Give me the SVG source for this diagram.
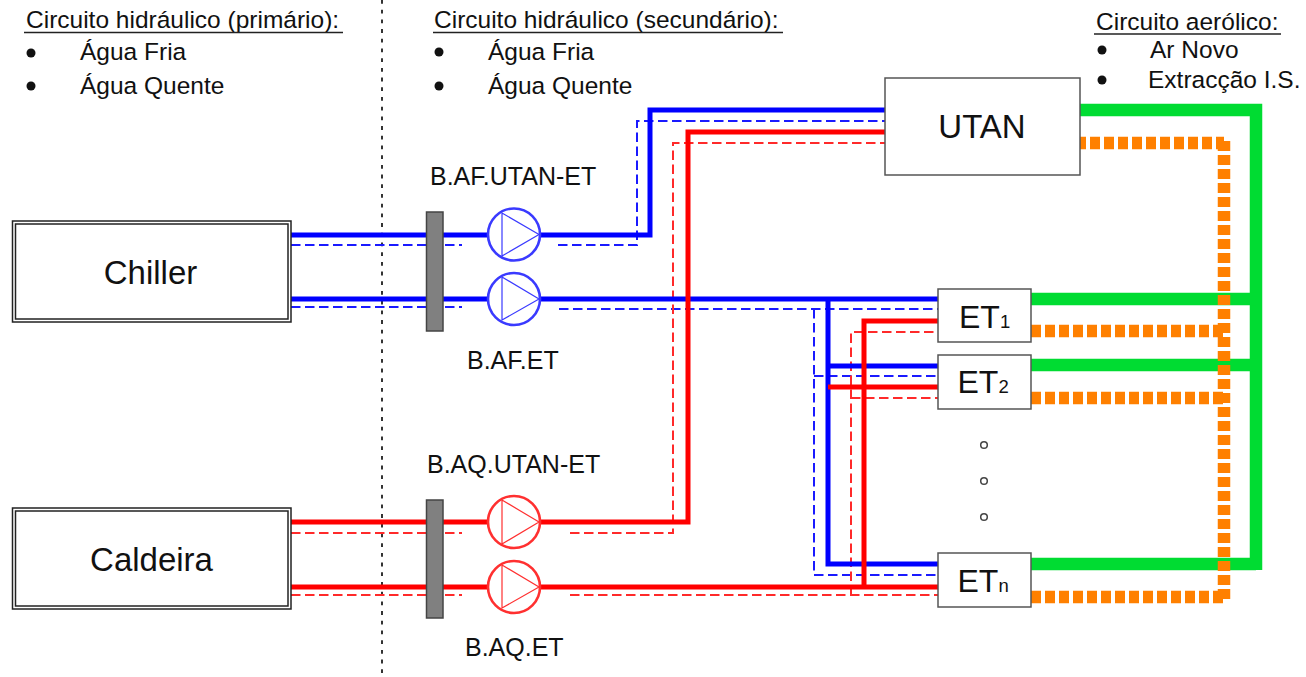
<svg xmlns="http://www.w3.org/2000/svg" width="1306" height="677" viewBox="0 0 1306 677">
<style>
text{font-family:"Liberation Sans",Arial,sans-serif;fill:#111}
.t{font-size:24.500px}
.l{font-size:25px}
.n{font-size:33px;text-anchor:middle}
.e{font-size:32px}
.s{font-size:18.500px}
.box{fill:#fff;stroke:#555;stroke-width:1.5}
.dbl{fill:#fff;stroke:#222;stroke-width:1.5}
.bar{fill:#808080;stroke:#444;stroke-width:1.5}
.ul{stroke:#222;stroke-width:1.5}
.line{fill:none;stroke-linejoin:miter}
.bt{stroke:#0000ff;stroke-width:5}
.rt{stroke:#ff0000;stroke-width:5}
.bd{stroke:#1a1aff;stroke-width:2;stroke-dasharray:9.5 4.5}
.rd{stroke:#ff2a2a;stroke-width:2;stroke-dasharray:9.5 4.5}
.g{stroke:#00dc32;stroke-width:12.5}
.o{stroke:#ff8000;stroke-width:12.5;stroke-dasharray:10 4}
.pb circle,.pb path{stroke:#3a3aff}
.pr circle,.pr path{stroke:#ff3030}
.p circle{stroke-width:2.6;fill:#fff}
.p path{stroke-width:1.2;fill:none}
</style>
<g id="sep"><line x1="382" y1="0" x2="382" y2="677" stroke="#000" stroke-width="1.600" stroke-dasharray="3.800 5.900"/></g>
<g id="legend-primario">
<text class="t" x="26" y="28">Circuito hidráulico (primário):</text><line class="ul" x1="24" y1="32.500" x2="343" y2="32.500"/>
<circle cx="31" cy="53" r="4.500" fill="#111"/><text class="t" x="80" y="60">Água Fria</text>
<circle cx="31" cy="86" r="4.500" fill="#111"/><text class="t" x="80" y="94">Água Quente</text>
</g>
<g id="legend-secundario">
<text class="t" x="434" y="28">Circuito hidráulico (secundário):</text><line class="ul" x1="433" y1="32.500" x2="783" y2="32.500"/>
<circle cx="439" cy="52" r="4.500" fill="#111"/><text class="t" x="488" y="60">Água Fria</text>
<circle cx="439" cy="86" r="4.500" fill="#111"/><text class="t" x="488" y="94">Água Quente</text>
</g>
<g id="legend-aeraulico">
<text class="t" x="1096" y="30">Circuito aerólico:</text><line class="ul" x1="1094" y1="34" x2="1281" y2="34"/>
<circle cx="1102" cy="50" r="4.500" fill="#111"/><text class="t" x="1150" y="58">Ar Novo</text>
<circle cx="1102" cy="80" r="4.500" fill="#111"/><text class="t" x="1148" y="88">Extracção I.S.</text>
</g>
<g id="connectors" class="line">
<path class="g" d="M1080 110H1256V570"/>
<path class="g" d="M1031 299H1256M1031 365H1256M1031 564H1256"/>
<path class="o" stroke-dashoffset="4" d="M1080 143H1224"/>
<path class="o" d="M1224 141V603"/>
<path class="o" d="M1031 331H1224M1031 398H1224M1031 597H1224"/>
<path class="bd" d="M291 245H462M558 245H637V121H885"/>
<path class="bd" d="M291 307H462M559 309H938M814 309V575H938M814 376H938"/>
<path class="rd" d="M291 533H462M570 533H673V143H885"/>
<path class="rd" d="M291 595H462M570 595H938M851 595V332H938M851 398H938"/>
<path class="bt" d="M291 235H487M541 235H650V110H885"/>
<path class="bt" d="M291 299H938M828 299V564H938M828 366H938"/>
<path class="rt" d="M291 522H487M541 522H688V132H885"/>
<path class="rt" d="M291 587H938M864 587V321H938M828 387H938"/>
</g>
<g id="bar-af"><rect class="bar" x="426.500" y="212" width="16.500" height="119"/></g>
<g id="bar-aq"><rect class="bar" x="426.500" y="500" width="16.500" height="118"/></g>
<g id="pump-af-utan" class="p pb"><circle cx="514" cy="234.500" r="26"/><path d="M502 213V256L539 234.500Z"/></g>
<g id="pump-af-et" class="p pb"><circle cx="514" cy="299" r="26"/><path d="M502 277V320L539 299Z"/></g>
<g id="pump-aq-utan" class="p pr"><circle cx="514" cy="522" r="26"/><path d="M502 500V544L539 522Z"/></g>
<g id="pump-aq-et" class="p pr"><circle cx="514" cy="587" r="26"/><path d="M502 565V608L539 587Z"/></g>
<g id="chiller"><rect class="dbl" x="12.500" y="221" width="278.500" height="101"/><rect class="dbl" x="15.500" y="224" width="272.500" height="95"/><text class="n" x="150.500" y="284">Chiller</text></g>
<g id="caldeira"><rect class="dbl" x="12.500" y="508" width="278.500" height="101"/><rect class="dbl" x="15.500" y="511" width="272.500" height="95"/><text class="n" x="151.500" y="571">Caldeira</text></g>
<g id="utan"><rect class="box" x="885" y="78" width="195" height="97"/><text class="n" x="982" y="138">UTAN</text></g>
<g id="et1"><rect class="box" x="938" y="289" width="93" height="53"/><text class="e" x="959" y="328">ET<tspan class="s">1</tspan></text></g>
<g id="et2"><rect class="box" x="938" y="355" width="93" height="54"/><text class="e" x="957.500" y="393">ET<tspan class="s">2</tspan></text></g>
<g id="etn"><rect class="box" x="938" y="553" width="93" height="54"/><text class="e" x="957.500" y="592">ET<tspan class="s">n</tspan></text></g>
<g id="dots" fill="#fff" stroke="#444" stroke-width="1.500"><circle cx="984" cy="445" r="3.300"/><circle cx="984" cy="481" r="3.300"/><circle cx="984" cy="517" r="3.300"/></g>
<g id="labels">
<text class="l" x="430" y="185">B.AF.UTAN-ET</text>
<text class="l" x="467" y="369">B.AF.ET</text>
<text class="l" x="427" y="473">B.AQ.UTAN-ET</text>
<text class="l" x="465" y="656">B.AQ.ET</text>
</g>
</svg>
